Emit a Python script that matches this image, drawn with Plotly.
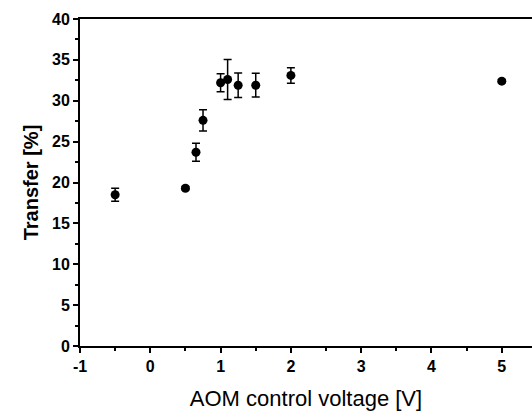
import plotly.graph_objects as go

voltage = [-0.5, 0.5, 0.65, 0.75, 1.0, 1.1, 1.25, 1.5, 2.0, 5.0]
transfer = [18.5, 19.3, 23.7, 27.6, 32.2, 32.6, 31.9, 31.9, 33.1, 32.4]
error = [0.8, 0.2, 1.1, 1.3, 1.1, 2.45, 1.5, 1.45, 0.95, 0.2]

x_ticks = [-1, 0, 1, 2, 3, 4, 5]
y_ticks = [0, 5, 10, 15, 20, 25, 30, 35, 40]

fig = go.Figure()
fig.add_trace(go.Scatter(
    x=voltage, y=transfer, mode="markers",
    marker=dict(color="black", size=9, symbol="circle"),
    error_y=dict(type="data", array=error, visible=True, color="black",
                 thickness=1.5, width=4),
    showlegend=False,
))

tickfont = dict(family="Liberation Sans, Arial, sans-serif", size=16, color="black")

fig.update_layout(
    width=532, height=419,
    margin=dict(l=80, r=0, t=19, b=73),
    paper_bgcolor="white", plot_bgcolor="white",
    xaxis=dict(
        range=[-1, 5.43], tickvals=x_ticks, ticktext=["<b>%s</b>" % v for v in x_ticks],
        showgrid=False, zeroline=False, showline=True, linecolor="black", linewidth=2,
        mirror=True, ticks="outside", ticklen=5, tickwidth=2, tickcolor="black",
        minor=dict(dtick=0.5, tick0=0, ticks="outside", ticklen=3, tickwidth=1.5, tickcolor="black"),
        tickfont=tickfont,
        title=dict(text="AOM control voltage [V]", standoff=16,
                   font=dict(family="Liberation Sans, Arial, sans-serif", size=22, color="black")),
    ),
    yaxis=dict(
        range=[0, 40], tickvals=y_ticks, ticktext=["<b>%s</b>" % v for v in y_ticks],
        showgrid=False, zeroline=False, showline=True, linecolor="black", linewidth=2,
        ticks="outside", ticklen=5, tickwidth=2, tickcolor="black",
        minor=dict(dtick=2.5, tick0=0, ticks="outside", ticklen=3, tickwidth=1.5, tickcolor="black"),
        tickfont=tickfont,
        title=dict(text="<b>Transfer [%]</b>", standoff=8,
                   font=dict(family="Liberation Sans, Arial, sans-serif", size=20, color="black")),
    ),
)

fig.write_html("out.html")
